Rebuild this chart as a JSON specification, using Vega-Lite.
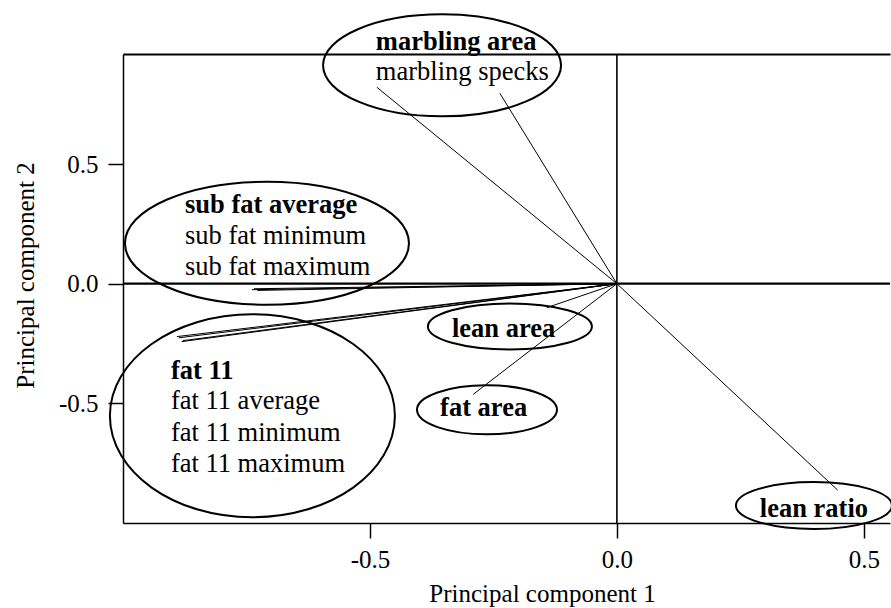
{
  "$schema": "https://vega.github.io/schema/vega-lite/v6.json",
  "width": 767,
  "height": 469,
  "autosize": {"type": "none"},
  "padding": {"left": 123, "top": 54, "right": 1, "bottom": 85},
  "background": "white",
  "datasets": {
    "vectors": [
      {"variable": "marbling area", "pc1": -0.486, "pc2": 0.821},
      {"variable": "marbling specks", "pc1": -0.237, "pc2": 0.796},
      {"variable": "sub fat average", "pc1": -0.739, "pc2": -0.025},
      {"variable": "sub fat minimum", "pc1": -0.735, "pc2": -0.021},
      {"variable": "sub fat maximum", "pc1": -0.728, "pc2": -0.028},
      {"variable": "fat 11", "pc1": -0.891, "pc2": -0.221},
      {"variable": "fat 11 average", "pc1": -0.887, "pc2": -0.226},
      {"variable": "fat 11 minimum", "pc1": -0.881, "pc2": -0.242},
      {"variable": "fat 11 maximum", "pc1": -0.879, "pc2": -0.238},
      {"variable": "lean area", "pc1": -0.142, "pc2": -0.1},
      {"variable": "fat area", "pc1": -0.291, "pc2": -0.4625},
      {"variable": "lean ratio", "pc1": 0.447, "pc2": -0.8625}
    ],
    "groups": [
      {"group": "marbling", "cx": -0.354, "cy": 0.9125},
      {"group": "sub fat", "cx": -0.7085, "cy": 0.169},
      {"group": "fat 11", "cx": -0.738, "cy": -0.552},
      {"group": "lean area", "cx": -0.2166, "cy": -0.179},
      {"group": "fat area", "cx": -0.263, "cy": -0.527},
      {"group": "lean ratio", "cx": 0.399, "cy": -0.927}
    ],
    "labels": [
      {"label": "marbling area", "lx": -0.488, "ly": 0.975, "role": "group"},
      {"label": "marbling specks", "lx": -0.488, "ly": 0.85, "role": "member"},
      {"label": "sub fat average", "lx": -0.8745, "ly": 0.296, "role": "group"},
      {"label": "sub fat minimum", "lx": -0.8745, "ly": 0.1667, "role": "member"},
      {"label": "sub fat maximum", "lx": -0.8745, "ly": 0.0375, "role": "member"},
      {"label": "fat 11", "lx": -0.903, "ly": -0.4, "role": "group"},
      {"label": "fat 11 average", "lx": -0.903, "ly": -0.525, "role": "member"},
      {"label": "fat 11 minimum", "lx": -0.903, "ly": -0.658, "role": "member"},
      {"label": "fat 11 maximum", "lx": -0.903, "ly": -0.7875, "role": "member"},
      {"label": "lean area", "lx": -0.334, "ly": -0.221, "role": "group"},
      {"label": "fat area", "lx": -0.358, "ly": -0.554, "role": "group"},
      {"label": "lean ratio", "lx": 0.2895, "ly": -0.975, "role": "group"}
    ]
  },
  "resolve": {"axis": {"x": "independent", "y": "independent"}},
  "layer": [
    {
      "data": {"name": "vectors"},
      "mark": {"type": "rule", "color": "black", "strokeWidth": 1},
      "encoding": {
        "x": {
          "field": "pc1", "type": "quantitative",
          "scale": {"domain": [-1.0, 0.553], "nice": false, "zero": false},
          "axis": {
            "orient": "bottom", "values": [-0.5, 0, 0.5],
            "labelExpr": "replace(format(datum.value, '.1f'), '\u2212', '-')",
            "labelPadding": 9, "title": "Principal component 1",
            "titleX": 419, "titleY": 70, "titleBaseline": "middle"
          }
        },
        "y": {
          "field": "pc2", "type": "quantitative",
          "scale": {"domain": [-1.0, 0.96], "nice": false, "zero": false},
          "axis": {
            "orient": "left", "values": [-0.5, 0, 0.5],
            "labelExpr": "replace(format(datum.value, '.1f'), '\u2212', '-')",
            "labelPadding": 10, "title": "Principal component 2",
            "titleX": -98, "titleY": 221, "titleAngle": -90,
            "titleBaseline": "middle", "titleAlign": "center"
          }
        },
        "x2": {"datum": 0},
        "y2": {"datum": 0}
      }
    },
    {
      "data": {"values": [{"ref": 0}]},
      "mark": {"type": "rule", "color": "black", "strokeWidth": 2.2},
      "encoding": {
        "y": {"field": "ref", "type": "quantitative", "axis": null}
      }
    },
    {
      "data": {"values": [{"ref": 0}]},
      "mark": {"type": "rule", "color": "black", "strokeWidth": 1.6},
      "encoding": {
        "x": {
          "field": "ref", "type": "quantitative",
          "axis": {"orient": "top", "labels": false, "ticks": false, "title": null, "domain": true, "domainWidth": 1.8}
        }
      }
    },
    {
      "data": {"name": "groups"},
      "mark": {"type": "point", "filled": false, "stroke": "black", "strokeWidth": 2, "size": 4, "opacity": 1},
      "encoding": {
        "x": {"field": "cx", "type": "quantitative", "axis": null},
        "y": {"field": "cy", "type": "quantitative", "axis": null},
        "shape": {
          "field": "group", "type": "nominal", "legend": null,
          "scale": {
            "domain": ["marbling", "sub fat", "fat 11", "lean area", "fat area", "lean ratio"],
            "range": [
              "M119,0C119,28.2 65.7,51 0,51C-65.7,51 -119,28.2 -119,0C-119,-28.2 -65.7,-51 0,-51C65.7,-51 119,-28.2 119,0Z",
              "M142,0C142,34 78.4,61.5 0,61.5C-78.4,61.5 -142,34 -142,0C-142,-34 -78.4,-61.5 0,-61.5C78.4,-61.5 142,-34 142,0Z",
              "M142.5,0C142.5,56.1 78.7,101.5 0,101.5C-78.7,101.5 -142.5,56.1 -142.5,0C-142.5,-56.1 -78.7,-101.5 0,-101.5C78.7,-101.5 142.5,-56.1 142.5,0Z",
              "M82,0C82,12.7 45.3,23 0,23C-45.3,23 -82,12.7 -82,0C-82,-12.7 -45.3,-23 0,-23C45.3,-23 82,-12.7 82,0Z",
              "M70,0C70,13.5 38.7,24.5 0,24.5C-38.7,24.5 -70,13.5 -70,0C-70,-13.5 -38.7,-24.5 0,-24.5C38.7,-24.5 70,-13.5 70,0Z",
              "M78,0C78,13 43.1,23.5 0,23.5C-43.1,23.5 -78,13 -78,0C-78,-13 -43.1,-23.5 0,-23.5C43.1,-23.5 78,-13 78,0Z"
            ]
          }
        }
      }
    },
    {
      "data": {"name": "labels"},
      "transform": [{"filter": "datum.role === 'group'"}],
      "mark": {"type": "text", "align": "left", "baseline": "alphabetic", "font": "Liberation Serif", "fontSize": 26.5, "fontWeight": "bold", "color": "black"},
      "encoding": {
        "x": {"field": "lx", "type": "quantitative", "axis": null},
        "y": {"field": "ly", "type": "quantitative", "axis": null},
        "text": {"field": "label"}
      }
    },
    {
      "data": {"name": "labels"},
      "transform": [{"filter": "datum.role === 'member'"}],
      "mark": {"type": "text", "align": "left", "baseline": "alphabetic", "font": "Liberation Serif", "fontSize": 26.5, "fontWeight": "normal", "color": "black"},
      "encoding": {
        "x": {"field": "lx", "type": "quantitative", "axis": null},
        "y": {"field": "ly", "type": "quantitative", "axis": null},
        "text": {"field": "label"}
      }
    }
  ],
  "config": {
    "view": {"stroke": null},
    "axis": {
      "grid": false,
      "domainColor": "black", "tickColor": "black",
      "labelColor": "black", "titleColor": "black",
      "labelFont": "Liberation Serif", "titleFont": "Liberation Serif",
      "labelFontSize": 25, "titleFontSize": 25, "titleFontWeight": "normal",
      "domainWidth": 1.5, "tickWidth": 1.5, "tickSize": 15
    }
  }
}
